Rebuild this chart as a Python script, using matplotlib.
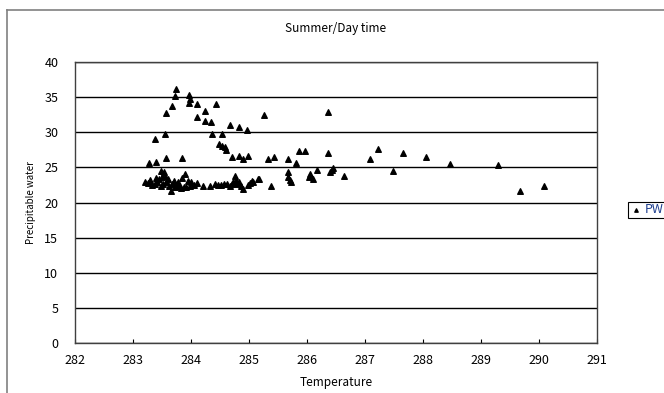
import matplotlib
matplotlib.use('Agg')
import matplotlib.pyplot as plt
from matplotlib.lines import Line2D

# Summer / day time: temperature (K) vs precipitable water
temp = [
    # upper arc
    283.74, 283.73, 283.68, 283.57, 283.96, 283.98, 283.97, 284.11, 284.43, 284.24,
    284.11, 284.24, 284.35, 285.26, 286.37, 284.68, 284.82, 284.97, 283.38, 283.55,
    284.37, 284.53, 284.48, 284.53, 284.58, 284.60, 284.70, 284.83, 284.90, 284.99,
    283.28, 283.39, 283.57, 283.84,
    # middle / right
    285.33, 285.43, 285.68, 285.81, 285.87, 285.97, 286.36, 287.22, 287.09, 287.48,
    287.66, 288.06, 288.47, 289.29, 289.67, 290.09,
    285.67, 285.68, 285.70, 285.72, 286.05, 286.03, 286.11, 286.18, 286.43, 286.45,
    286.40, 286.64, 285.18, 285.05, 285.38,
    # lower cluster
    283.20, 283.25, 283.30, 283.33, 283.38, 283.40, 283.42, 283.45, 283.48, 283.49,
    283.50, 283.52, 283.53, 283.55, 283.57, 283.60, 283.62, 283.66, 283.68, 283.70,
    283.72, 283.75, 283.78, 283.80, 283.83, 283.85, 283.88, 283.90, 283.92, 283.95,
    283.98, 284.00, 284.05, 284.10,
    284.20, 284.33, 284.41, 284.47, 284.51, 284.57, 284.62, 284.67, 284.70, 284.73,
    284.75, 284.78, 284.80, 284.83, 284.86, 284.90, 284.98, 285.02, 285.07, 285.16,
]
pw = [
    36.1, 35.2, 33.7, 32.8, 35.3, 34.8, 34.2, 34.0, 34.0, 33.0,
    32.2, 31.6, 31.5, 32.4, 32.9, 31.0, 30.7, 30.4, 29.1, 29.7,
    29.8, 29.8, 28.4, 28.1, 27.9, 27.5, 26.5, 26.7, 26.2, 26.7,
    25.6, 25.8, 26.4, 26.4,
    26.2, 26.5, 26.2, 25.6, 27.3, 27.3, 27.1, 27.6, 26.2, 24.5,
    27.1, 26.5, 25.5, 25.4, 21.6, 22.3,
    24.4, 23.7, 23.2, 23.0, 24.0, 23.6, 23.3, 24.6, 24.7, 24.9,
    24.3, 23.8, 23.3, 23.1, 22.4,
    23.0, 22.8, 23.2, 22.5, 22.7, 23.5, 22.9, 23.3, 22.4, 24.5,
    23.6, 22.6, 24.4, 23.8, 22.9, 23.4, 22.3, 21.7, 22.7, 23.1,
    22.2, 22.6, 23.0, 22.3, 22.1, 23.5, 22.2, 24.0, 22.2, 23.1,
    22.4, 22.9, 22.5, 22.8,
    22.3, 22.4, 22.6, 22.5, 22.5, 22.6, 22.7, 22.3, 22.6, 22.9,
    23.8, 23.2, 22.7, 22.9, 22.4, 21.9, 22.5, 22.8, 23.0, 23.3,
]

font = ['Noto Sans CJK JP', 'DejaVu Sans']
plt.rcParams['font.family'] = font

fig = plt.figure(figsize=(6.64, 3.93), dpi=100)

# chart area border (Excel style)
fig.add_artist(Line2D([0.011, 1.0], [0.975, 0.975], color='#808080', lw=1.2))
fig.add_artist(Line2D([0.011, 0.011], [0.0, 0.975], color='#808080', lw=1.2))

ax = fig.add_axes([0.113, 0.127, 0.786, 0.715])
ax.scatter(temp, pw, marker='^', s=16, color='black', zorder=3, label='PW')

ax.set_xlim(282, 291)
ax.set_ylim(0, 40)
ax.set_xticks(range(282, 292))
ax.set_yticks(range(0, 41, 5))
ax.yaxis.grid(True, color='black', lw=1)
ax.set_axisbelow(True)
for s in ax.spines.values():
    s.set_color('#404040')
    s.set_linewidth(1)
ax.tick_params(axis='x', direction='in', length=3, labelsize=9, pad=8)
ax.tick_params(axis='y', length=0, labelsize=9, pad=12)

ax.set_title('Summer/Day time', fontsize=8.5, pad=22)
ax.set_xlabel('Temperature', fontsize=8.5, labelpad=6)
ax.set_ylabel('Precipitable water', fontsize=7, labelpad=6)

leg = fig.legend(loc='upper left', bbox_to_anchor=(0.936, 0.503), fontsize=9,
                 handletextpad=0.2, borderpad=0.15, handlelength=1.0,
                 markerscale=0.6, fancybox=False, edgecolor='black', framealpha=1)
leg.get_frame().set_linewidth(0.8)
for t in leg.get_texts():
    t.set_color('#1f3f8f')

fig.savefig('out.png', dpi=100)
